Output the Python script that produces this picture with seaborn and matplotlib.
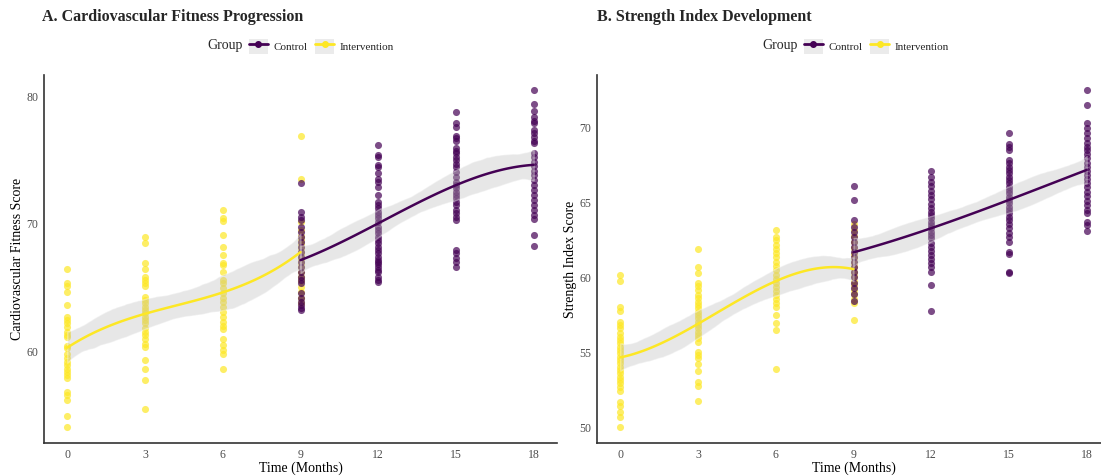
import pandas as pd
import numpy as np
import seaborn as sns
import matplotlib.pyplot as plt
from matplotlib.patches import Patch
from matplotlib.lines import Line2D

# ? Данные: время (мес.) и баллы по группам
times = [0, 3, 6, 9, 12, 15, 18]

cardio_intervention = {
    0: [66.45, 65.31, 65.1, 64.65, 63.63, 62.64, 62.43, 62.17, 61.9, 61.51, 61.25, 61.12, 60.42, 60.21,
        59.74, 59.43, 59.16, 58.9, 58.64, 58.38, 58.12, 57.86, 56.81, 56.55, 56.16, 54.9, 54.06],
    3: [68.96, 68.49, 66.93, 66.43, 65.83, 65.57, 65.31, 65.1, 64.26, 64.0, 63.74, 63.47, 63.22, 62.96,
        62.69, 62.43, 62.17, 61.78, 61.51, 61.25, 60.99, 60.6, 60.34, 59.29, 58.64, 57.73, 55.43],
    6: [71.06, 70.41, 70.22, 69.1, 68.13, 67.53, 66.93, 66.75, 66.22, 65.57, 65.31, 64.92, 64.53, 64.13,
        63.87, 63.48, 63.08, 62.69, 62.3, 61.96, 61.7, 60.92, 60.47, 60.08, 59.76, 58.64],
    9: [76.9, 73.5, 70.1, 69.5, 69.0, 68.7, 68.4, 68.1, 67.8, 67.5, 67.2, 66.9, 66.6, 66.2, 65.8,
        65.5, 65.0, 64.6, 64.2, 63.8],
}
cardio_control = {
    9: [73.15, 70.93, 70.53, 70.27, 69.75, 69.36, 68.96, 68.57, 68.18, 67.79, 67.4, 67.0, 66.61, 66.22,
        65.83, 65.57, 65.31, 64.53, 64.13, 63.87, 63.61, 63.35, 63.22],
    12: [76.16, 75.37, 75.19, 74.59, 74.41, 73.94, 73.47, 73.28, 72.89, 72.24, 71.71, 71.45, 71.19, 70.93,
         70.67, 70.41, 70.14, 69.75, 69.49, 69.23, 68.96, 68.71, 68.45, 68.18, 67.92, 67.66, 67.4, 67.14,
         66.61, 66.35, 65.83, 65.57, 65.44, 67.0, 66.8, 66.2],
    15: [78.77, 77.91, 77.59, 76.86, 76.68, 76.49, 75.9, 75.71, 75.5, 75.19, 74.98, 74.67, 74.41, 74.06,
         73.67, 73.28, 73.02, 72.76, 72.49, 72.24, 71.98, 71.71, 71.45, 71.06, 70.8, 70.53, 70.27, 67.92,
         67.66, 67.27, 67.0, 66.61],
    18: [80.47, 79.37, 78.85, 78.33, 78.06, 77.91, 77.33, 77.07, 76.81, 76.49, 76.28, 75.5, 75.19, 74.85,
         74.51, 74.14, 73.8, 73.41, 73.02, 72.63, 72.24, 71.84, 71.45, 71.06, 70.67, 70.33, 69.1, 68.24],
}

strength_intervention = {
    0: [60.2, 59.82, 58.05, 57.82, 57.09, 56.87, 56.65, 56.31, 56.09, 55.87, 55.65, 55.42, 55.2, 54.98,
        54.75, 54.53, 54.31, 54.09, 53.87, 53.64, 53.42, 53.2, 52.98, 52.75, 52.49, 51.75, 51.47, 51.09,
        50.75, 50.09],
    3: [61.91, 60.71, 60.35, 59.69, 59.47, 59.2, 58.87, 58.65, 58.42, 58.2, 57.98, 57.75, 57.53, 57.31,
        57.09, 56.87, 56.65, 56.42, 56.2, 55.98, 55.75, 55.09, 54.87, 54.65, 54.27, 53.82, 53.09, 52.8, 51.82],
    6: [63.2, 62.71, 62.53, 62.2, 61.91, 61.65, 61.38, 61.09, 60.8, 60.53, 60.2, 59.91, 59.65, 59.42,
        59.15, 58.87, 58.58, 58.31, 58.05, 57.53, 57.02, 56.53, 53.91],
    9: [63.6, 63.2, 62.8, 62.4, 62.0, 61.6, 61.3, 61.0, 60.7, 60.4, 60.1, 59.8, 59.5, 59.2, 58.9,
        58.6, 58.3, 57.2],
}
strength_control = {
    9: [66.13, 65.2, 63.87, 63.42, 63.09, 62.75, 62.42, 62.09, 61.75, 61.42, 61.09, 60.75, 60.42, 60.09,
        59.65, 59.31, 58.91, 58.47],
    12: [67.15, 66.75, 66.42, 66.13, 65.82, 65.53, 65.25, 64.93, 64.65, 64.42, 64.2, 63.98, 63.75, 63.53,
         63.31, 63.09, 62.87, 62.64, 62.35, 62.09, 61.82, 61.53, 61.25, 60.98, 60.71, 60.42, 59.53, 57.8],
    15: [69.69, 68.93, 68.75, 68.53, 67.87, 67.65, 67.42, 67.2, 66.98, 66.75, 66.53, 66.31, 66.09, 65.87,
         65.65, 65.42, 65.2, 64.98, 64.75, 64.53, 64.31, 64.09, 63.87, 63.6, 63.31, 63.02, 62.75, 62.42,
         61.75, 61.6, 60.42, 60.31],
    18: [72.53, 71.53, 70.35, 69.98, 69.65, 69.31, 68.98, 68.75, 68.53, 68.27, 67.98, 67.69, 67.42, 67.15,
         66.87, 66.58, 66.31, 66.05, 65.75, 65.47, 65.15, 64.87, 64.53, 64.31, 63.75, 63.53, 63.15],
}

groups = ['Control', 'Intervention']
colors = {'Control': '#440154', 'Intervention': '#FDE725'}


def to_frame(intervention, control):
    rows = []
    for grp, d in [('Intervention', intervention), ('Control', control)]:
        for t, vals in d.items():
            for v in vals:
                rows.append({'time': t, 'score': v, 'group': grp})
    return pd.DataFrame(rows)


sns.set_style('white')
plt.rcParams['font.family'] = ['Liberation Serif', 'DejaVu Serif']

fig = plt.figure(figsize=(11.01, 4.76), dpi=100)
ax1 = fig.add_axes([44 / 1101, 1 - 443 / 476, 513 / 1101, 368 / 476])
ax2 = fig.add_axes([597 / 1101, 1 - 443 / 476, 513 / 1101, 368 / 476])

panels = [
    (ax1, to_frame(cardio_intervention, cardio_control), 'A. Cardiovascular Fitness Progression',
     'Cardiovascular Fitness Score', (52.8, 81.65), [60, 70, 80]),
    (ax2, to_frame(strength_intervention, strength_control), 'B. Strength Index Development',
     'Strength Index Score', (49.0, 73.53), [50, 55, 60, 65, 70]),
]

for i, (ax, df, title, ylabel, ylim, yticks) in enumerate(panels):
    shift = i * 555
    #? точки: сначала Intervention, потом Control сверху
    for grp in ['Intervention', 'Control']:
        sub = df[df['group'] == grp]
        sns.scatterplot(x='time', y='score', data=sub, color=colors[grp], alpha=0.7, s=26,
                        linewidth=0, ax=ax, legend=False)
    #? сглаживание с доверительной полосой
    for grp in ['Intervention', 'Control']:
        sub = df[df['group'] == grp]
        n_before = len(ax.collections)
        sns.regplot(x='time', y='score', data=sub, order=3, scatter=False, ci=95, seed=1,
                    truncate=True, color=colors[grp], line_kws={'linewidth': 1.8}, ax=ax)
        for coll in ax.collections[n_before:]:
            coll.set_facecolor('#BDBDBD')
            coll.set_alpha(0.35)

    ax.set_xlim(-0.9, 18.9)
    ax.set_ylim(*ylim)
    ax.set_xticks(times)
    ax.set_yticks(yticks)
    ax.tick_params(axis='both', length=0, labelsize=8.5, labelcolor='#4D4D4D', pad=4)
    ax.set_xlabel('Time (Months)', fontsize=10, color='black', labelpad=1)
    ax.set_ylabel(ylabel, fontsize=10, color='black', labelpad=2)
    for side in ['top', 'right']:
        ax.spines[side].set_visible(False)
    for side in ['left', 'bottom']:
        ax.spines[side].set_color('#333333')
        ax.spines[side].set_linewidth(1.2)
    ax.grid(False)

    fig.text((42 + shift) / 1101, 1 - 17 / 476, title, fontsize=11.5, fontweight='bold',
             ha='left', va='center')

    handles = [(Patch(facecolor='#EBEBEB', edgecolor='none'),
                Line2D([], [], color=colors[g], linewidth=2, marker='o', markersize=4))
               for g in groups]
    fig.legend(handles, groups, loc='center left', bbox_to_anchor=((249 + shift) / 1101, 1 - 46 / 476),
               ncol=2, frameon=False, fontsize=8, handlelength=1.7, handleheight=1.7, borderpad=0,
               borderaxespad=0, columnspacing=0.7, handletextpad=0.5)
    fig.text((207 + shift) / 1101, 1 - 46 / 476, 'Group', fontsize=10, ha='left', va='center')

fig.savefig('out.png', dpi=100)
